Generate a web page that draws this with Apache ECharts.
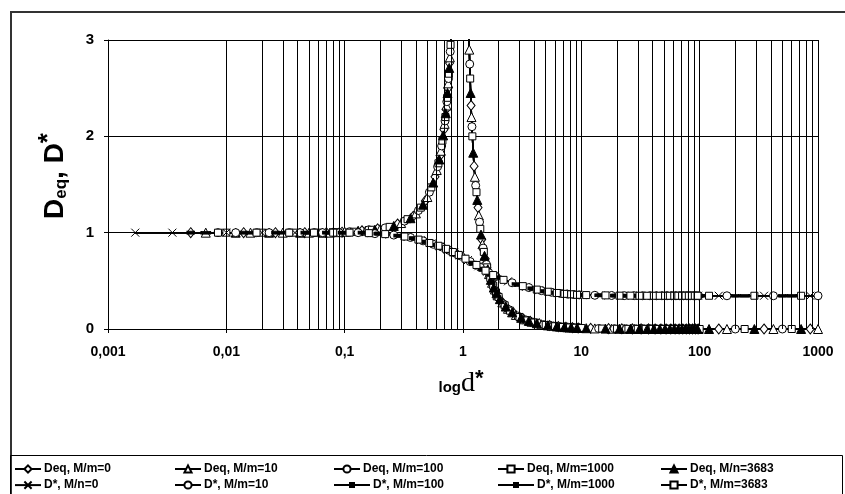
<!DOCTYPE html>
<html><head><meta charset="utf-8">
<script src="https://cdn.jsdelivr.net/npm/echarts@6/dist/echarts.min.js"></script>
<style>html,body{margin:0;padding:0;background:#fff}#c{width:845px;height:494px}</style>
</head><body><div id="c"></div>
<script>
// ---- tick labels ----
const xTickLabels = ['0,001','0,01','0,1','1','10','100','1000'];
const yTickLabels = ['0','1','2','3'];

// ---- series names ----
const deqNames = ['Deq, M/m=0','Deq, M/m=10','Deq, M/m=100','Deq, M/m=1000','Deq, M/n=3683'];
const dstarNames = ['D*, M/n=0','D*, M/m=10','D*, M/m=100','D*, M/m=1000','D*, M/m=3683'];

// ---- Deq curve, d* < 10 : [d*, Deq] ----
const deqHead = [
 [0.005,1],[0.0067,1],[0.0085,1],[0.01,1],[0.012,1],[0.014,1],[0.016,1],[0.018,1],[0.02,1],[0.023,1],[0.026,1],[0.03,1],[0.034,1],[0.038,1],[0.042,1],[0.046,1],[0.05,1],[0.055,1],[0.06,1],[0.065,1],[0.07,1],[0.075,1],[0.08,1.005],[0.085,1.005],[0.09,1.005],[0.095,1.005],
 [0.1,1.01],[0.11,1.01],[0.12,1.01],[0.13,1.02],[0.14,1.02],[0.15,1.02],[0.16,1.03],[0.17,1.03],[0.18,1.03],[0.19,1.04],[0.2,1.04],
 [0.22,1.05],[0.24,1.06],[0.26,1.07],[0.28,1.09],[0.3,1.10],[0.32,1.12],[0.34,1.14],[0.36,1.15],[0.38,1.17],[0.4,1.20],[0.42,1.23],[0.44,1.26],[0.46,1.29],[0.48,1.33],[0.5,1.37],[0.52,1.42],[0.54,1.47],[0.56,1.52],[0.58,1.58],
 [0.6,1.65],[0.61,1.685],[0.62,1.72],[0.63,1.76],[0.64,1.80],[0.65,1.85],[0.66,1.90],[0.67,1.955],[0.68,2.01],[0.69,2.07],[0.7,2.13],
 [0.705,2.16],[0.71,2.2],[0.715,2.24],[0.72,2.28],[0.725,2.32],[0.73,2.36],[0.735,2.40],[0.74,2.45],[0.745,2.50],[0.75,2.55],[0.755,2.60],[0.76,2.65],[0.765,2.71],[0.77,2.76],[0.775,2.82],[0.78,2.88],[0.785,2.95],[0.79,3.02],[0.795,3.08],[0.8,3.15],
 [0.85,4.2],[0.9,6],[0.95,12],[1.0,40],[1.05,11],[1.08,5.5],[1.1,4.2],
 [1.11,3.3],[1.12,3.05],[1.13,2.9],[1.14,2.75],[1.15,2.6],[1.16,2.45],[1.17,2.32],[1.18,2.2],[1.19,2.1],[1.2,2.0],
 [1.22,1.83],[1.24,1.69],[1.26,1.58],[1.28,1.49],[1.3,1.42],[1.32,1.34],[1.34,1.26],[1.36,1.18],[1.38,1.11],[1.4,1.04],[1.42,0.98],[1.44,0.93],[1.46,0.88],[1.48,0.84],[1.5,0.80],[1.52,0.76],[1.54,0.73],[1.56,0.70],[1.58,0.67],[1.6,0.64],
 [1.62,0.62],[1.64,0.59],[1.66,0.57],[1.68,0.55],[1.7,0.53],[1.72,0.51],[1.74,0.49],[1.76,0.48],[1.78,0.46],[1.8,0.45],[1.82,0.43],[1.84,0.42],[1.86,0.41],[1.88,0.39],[1.9,0.38],[1.92,0.37],[1.94,0.36],[1.96,0.35],[1.98,0.34],[2.0,0.333],
 [2.05,0.31],[2.1,0.293],[2.15,0.276],[2.2,0.26],[2.25,0.246],[2.3,0.233],[2.35,0.221],[2.4,0.21],[2.45,0.20],[2.5,0.19],
 [2.6,0.173],[2.7,0.159],[2.8,0.146],[2.9,0.135],[3.0,0.125],[3.1,0.116],[3.2,0.108],[3.3,0.101],[3.4,0.094],[3.5,0.089],[3.6,0.084],[3.7,0.079],[3.8,0.075],[3.9,0.071],[4.0,0.067],
 [4.2,0.06],[4.4,0.055],[4.6,0.049],[4.8,0.045],[5.0,0.042],[5.2,0.038],[5.4,0.036],[5.6,0.033],[5.8,0.031],[6.0,0.029],[6.2,0.027],[6.4,0.025],[6.6,0.024],[6.8,0.022],[7.0,0.021],
 [7.2,0.020],[7.4,0.019],[7.6,0.018],[7.8,0.017],[8.0,0.016],[8.2,0.015],[8.4,0.014],[8.6,0.014],[8.8,0.013],[9.0,0.0125],[9.2,0.012],[9.4,0.011],[9.6,0.011],[9.8,0.010]
];

// ---- D* curve, d* < 10 : [d*, D*] ----
const dstarHead = [
 [0.0017,1],[0.0035,1],[0.005,1],[0.0067,1],[0.0085,1],[0.01,1],[0.012,1],[0.014,1],[0.016,1],[0.018,1],[0.02,1],[0.023,1],[0.026,1],[0.03,1],[0.034,1],[0.038,1],[0.042,1],[0.046,1],[0.05,1],[0.055,1],[0.06,1],[0.065,1],[0.07,1],[0.075,1],[0.08,1],[0.085,1],[0.09,1],[0.095,1],
 [0.1,1],[0.11,1],[0.12,1],[0.13,1],[0.14,1],[0.15,1],[0.16,0.995],[0.17,0.995],[0.18,0.99],[0.19,0.99],[0.2,0.99],
 [0.22,0.985],[0.24,0.98],[0.26,0.975],[0.28,0.97],[0.3,0.965],[0.32,0.96],[0.34,0.955],[0.36,0.95],[0.38,0.943],[0.4,0.935],[0.42,0.928],[0.44,0.921],[0.46,0.915],[0.48,0.908],[0.5,0.90],[0.52,0.893],[0.54,0.887],[0.56,0.88],[0.58,0.875],[0.6,0.87],
 [0.62,0.864],[0.64,0.858],[0.66,0.852],[0.68,0.846],[0.7,0.84],[0.72,0.832],[0.74,0.824],[0.76,0.817],[0.78,0.811],[0.8,0.805],[0.82,0.799],[0.84,0.793],[0.86,0.787],[0.88,0.781],[0.9,0.775],[0.92,0.769],[0.94,0.763],[0.96,0.757],[0.98,0.751],[1.0,0.745],
 [1.05,0.73],[1.1,0.715],[1.15,0.70],[1.2,0.69],[1.25,0.677],[1.3,0.665],[1.35,0.652],[1.4,0.64],[1.45,0.627],[1.5,0.615],[1.55,0.605],[1.6,0.595],[1.65,0.585],[1.7,0.575],[1.75,0.567],[1.8,0.56],[1.85,0.552],[1.9,0.545],[1.95,0.537],[2.0,0.53],
 [2.2,0.51],[2.4,0.495],[2.6,0.48],[2.8,0.467],[3.0,0.455],[3.2,0.445],[3.4,0.437],[3.6,0.43],[3.8,0.422],[4.0,0.415],[4.2,0.409],[4.4,0.403],[4.6,0.398],[4.8,0.394],[5.0,0.39],[5.2,0.387],[5.4,0.384],[5.6,0.381],[5.8,0.378],[6.0,0.376],
 [6.2,0.374],[6.4,0.372],[6.6,0.37],[6.8,0.368],[7.0,0.367],[7.2,0.365],[7.4,0.364],[7.6,0.363],[7.8,0.362],[8.0,0.361],[8.2,0.36],[8.4,0.359],[8.6,0.358],[8.8,0.357],[9.0,0.356],[9.2,0.355],[9.4,0.355],[9.6,0.354],[9.8,0.354]
];

// ---- shared tail positions d* >= 10 ----
const tailX = [10,11,12,13,14,15,16,17,18,19,20,21,22,23,24,25,26,27,28,29,30,31,32,33,34,35,36,37,38,39,40,
 41,42,43,44,45,46,47,48,49,50,51,52,53,54,55,56,57,58,59,60,61,62,63,64,65,66,67,68,69,70,
 71,72,73,74,75,76,77,78,79,80,81,82,83,84,85,86,87,88,89,90,91,92,93,94,95,96,97,98,99,100,
 120,145,170,200,240,290,350,420,500,600,720,860,1000];
const deqTailY = [0.010,0.0083,0.007,0.006,0.0051,0.0045,0.0039,0.0035,0.0031,0.0028,0.0025,
 0.0023,0.0021,0.0019,0.0017,0.0016,0.0015,0.0014,0.0013,0.0012,0.0011,
 0.001,0.001,0.001,0.001,0.001,0.001,0.001,0.001,0.001,0.001,
 0,0,0,0,0,0,0,0,0,0, 0,0,0,0,0,0,0,0,0,0, 0,0,0,0,0,0,0,0,0,0,
 0,0,0,0,0,0,0,0,0,0, 0,0,0,0,0,0,0,0,0,0, 0,0,0,0,0,0,0,0,0,0,
 0,0,0,0,0,0,0,0,0,0,0,0,0];
const dstarTailY = [0.353,0.352,0.351,0.35,0.35,0.349,0.349,0.348,0.348,0.347,0.347,
 0.346,0.346,0.346,0.346,0.346,0.346,0.346,0.346,0.346,0.346,
 0.345,0.345,0.345,0.345,0.345,0.345,0.345,0.345,0.345,0.345, 0.345,0.345,0.345,0.345,0.345,0.345,0.345,0.345,0.345,0.345,
 0.345,0.345,0.345,0.345,0.345,0.345,0.345,0.345,0.345,0.345, 0.345,0.345,0.345,0.345,0.345,0.345,0.345,0.345,0.345,0.345,
 0.345,0.345,0.345,0.345,0.345,0.345,0.345,0.345,0.345,0.345, 0.345,0.345,0.345,0.345,0.345,0.345,0.345,0.345,0.345,0.345,
 0.345,0.345,0.345,0.345,0.345,0.345,0.345,0.345,0.345,0.345,
 0.345,0.345,0.345,0.345,0.345,0.345,0.345,0.345,0.345,0.345,0.345,0.345,0.345];

// ---- styling ----
const FONT = 'Liberation Sans, Arial, sans-serif';
const deqMarks = [
  {symbol:'diamond', size:[8,10], fill:'#fff'},
  {symbol:'triangle', size:9, fill:'#fff'},
  {symbol:'circle', size:8, fill:'#fff'},
  {symbol:'rect', size:7, fill:'#fff'},
  {symbol:'triangle', size:9, fill:'#000'}
];
const dstarMarks = [
  {symbol:'path://M0,0L10,10M10,0L0,10', size:8, fill:'none'},
  {symbol:'circle', size:8, fill:'#fff'},
  {symbol:'rect', size:[7,3], fill:'#000'},
  {symbol:'rect', size:[9,3], fill:'#000'},
  {symbol:'rect', size:7, fill:'#fff'}
];

const deqPts = deqHead.concat(tailX.map((x, i) => [x, deqTailY[i]]));
const dstarPts = dstarHead.concat(tailX.map((x, i) => [x, dstarTailY[i]]));

function build(pts, k, onlyFirst) {
  return pts.map((p, i) => {
    const show = i < onlyFirst ? k === 0 : (i % 5 === k);
    return show ? p : {value: p, symbol: 'none'};
  });
}

const minorGrid = [];
for (let e = -3; e <= 2; e++) for (let m = 2; m <= 9; m++) minorGrid.push({xAxis: +(m * Math.pow(10, e)).toPrecision(3)});

const series = [{
  type: 'line', data: [], silent: true, symbol: 'none',
  markLine: {silent: true, symbol: ['none','none'], label: {show: false}, animation: false,
    lineStyle: {type: 'solid', color: '#000', width: 1}, emphasis: {disabled: true}, data: minorGrid}
}];
function mk(name, m, data) {
  return {
    name, type: 'line', data, symbol: m.symbol, symbolSize: m.size, showSymbol: true,
    clip: true, animation: false,
    lineStyle: {color: '#000', width: 1.5},
    itemStyle: {color: m.fill, borderColor: '#000', borderWidth: 1},
    emphasis: {disabled: true}
  };
}
deqNames.forEach((n, k) => series.push(mk(n, deqMarks[k], build(deqPts, k, 0))));
dstarNames.forEach((n, k) => series.push(mk(n, dstarMarks[k], build(dstarPts, k, 2))));

const legendLeft = [14, 174, 333, 497, 660];
const allNames = deqNames.concat(dstarNames);
const legends = allNames.map((n, i) => ({
  data: [n], left: legendLeft[i % 5], top: i < 5 ? 463 : 479, padding: 0,
  itemWidth: (i === 7 || i === 8) ? 36 : 26, itemHeight: (i === 7 || i === 8) ? 5 : 9, itemGap: 0, selectedMode: false,
  textStyle: {fontFamily: FONT, fontWeight: 'bold', fontSize: 12, color: '#000', padding: [0,0,0,-2]}
}));

const chart = echarts.init(document.getElementById('c'), null, {renderer: 'canvas'});
chart.setOption({
  animation: false,
  backgroundColor: '#fff',
  grid: {left: 108, top: 40, right: 27, bottom: 165, containLabel: false},
  legend: legends,
  xAxis: {
    type: 'log', logBase: 10, min: 0.001, max: 1000, splitNumber: 6,
    axisLine: {lineStyle: {color: '#000', width: 1}},
    axisTick: {show: true, length: 4, lineStyle: {color: '#000'}},
    minorTick: {show: false},
    splitLine: {show: true, lineStyle: {color: '#000', width: 1}},
    axisLabel: {margin: 16, color: '#000', fontFamily: FONT, fontWeight: 'bold', fontSize: 14,
      formatter: v => xTickLabels[Math.round(Math.log10(v)) + 3]}
  },
  yAxis: {
    type: 'value', min: 0, max: 3, interval: 1,
    axisLine: {show: true, lineStyle: {color: '#000', width: 1}},
    axisTick: {show: true, length: 4, lineStyle: {color: '#000'}},
    splitLine: {show: true, lineStyle: {color: '#000', width: 1}},
    axisLabel: {margin: 14, color: '#000', fontFamily: FONT, fontWeight: 'bold', fontSize: 15,
      formatter: v => yTickLabels[Math.round(v)]}
  },
  graphic: [
    {type: 'rect', shape: {x: 11, y: 12, width: 900, height: 900}, style: {fill: 'none', stroke: '#333', lineWidth: 2}, silent: true, z: -1},
    {type: 'rect', shape: {x: 10.5, y: 455.5, width: 832, height: 60}, style: {fill: 'none', stroke: '#000', lineWidth: 1}, silent: true},
    {type: 'text', x: 55, y: 176, rotation: Math.PI / 2, silent: true,
      style: {text: '{a|D}{b|eq}{a|, D}{c|*}', align: 'center', verticalAlign: 'middle', fill: '#000',
        rich: {
          a: {fontFamily: FONT, fontWeight: 'bold', fontSize: 28},
          b: {fontFamily: FONT, fontWeight: 'bold', fontSize: 17, padding: [13, 0, 0, 0]},
          c: {fontFamily: FONT, fontWeight: 'bold', fontSize: 26, padding: [0, 0, 13, 0]}
        }}},
    {type: 'text', x: 461, y: 384, silent: true,
      style: {text: '{l|log}{d|d}{s|*}', align: 'center', verticalAlign: 'middle', fill: '#000',
        rich: {
          l: {fontFamily: FONT, fontWeight: 'bold', fontSize: 15, padding: [8, 0, 0, 0]},
          d: {fontFamily: 'Liberation Serif, Times New Roman, serif', fontSize: 28},
          s: {fontFamily: FONT, fontWeight: 'bold', fontSize: 22, padding: [0, 0, 10, 0]}
        }}}
  ],
  series
});
</script></body></html>
